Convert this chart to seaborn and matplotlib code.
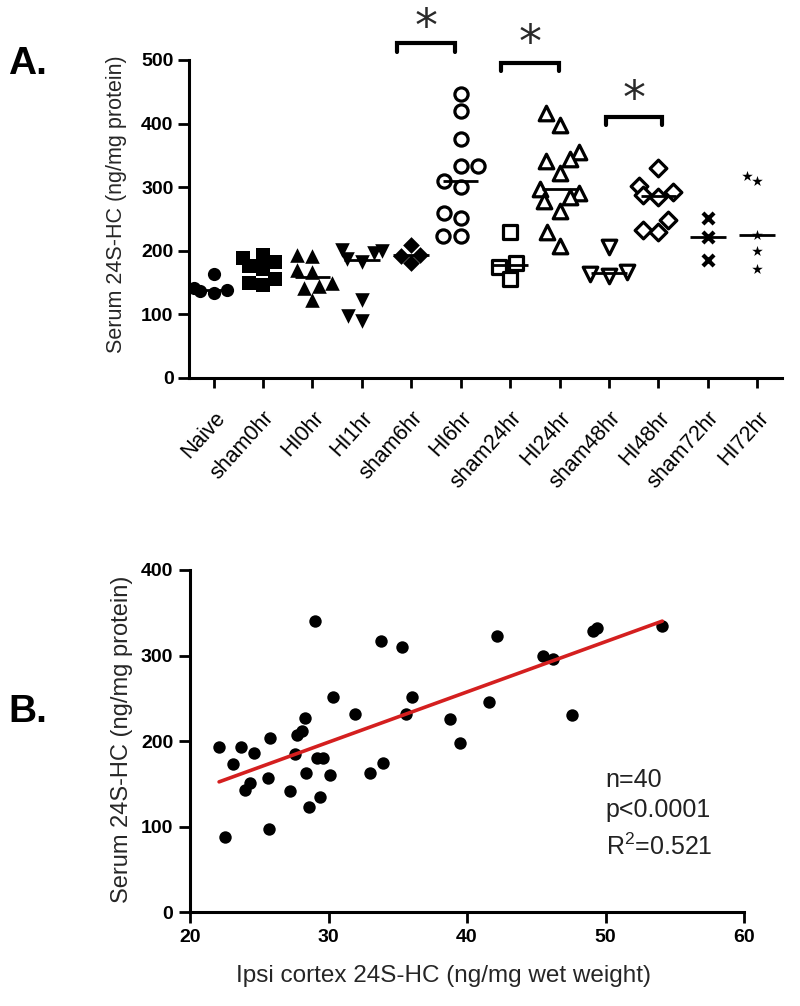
import warnings
warnings.filterwarnings("ignore")
import numpy as np
import matplotlib
matplotlib.use("Agg")
import matplotlib.pyplot as plt
import matplotlib.transforms as mtransforms
import seaborn as sns

sns.set_theme(style="ticks")
plt.rcParams["font.family"] = ["Liberation Sans", "DejaVu Sans"]
plt.rcParams["mathtext.default"] = "regular"

# ---------------- Panel A data ----------------
categories = ["Naive", "sham0hr", "HI0hr", "HI1hr", "sham6hr", "HI6hr",
              "sham24hr", "HI24hr", "sham48hr", "HI48hr", "sham72hr", "HI72hr"]
naive = [164, 142, 134, 138, 136]
sham0hr = [193, 188, 183, 176, 172, 155, 150, 146]
hi0hr = [193, 192, 170, 167, 150, 144, 141, 122]
hi1hr = [201, 199, 196, 187, 183, 123, 98, 89]
sham6hr = [209, 194, 192, 181]
hi6hr = [446, 419, 375, 333, 333, 309, 301, 259, 252, 223, 223]
sham24hr = [229, 181, 175, 155]
hi24hr = [417, 398, 356, 345, 341, 322, 297, 291, 285, 278, 262, 229, 208]
sham48hr = [206, 167, 163, 161]
hi48hr = [330, 302, 293, 288, 285, 249, 233, 230]
sham72hr = [252, 222, 185]
hi72hr = [318, 310, 225, 199, 172]
groups = [naive, sham0hr, hi0hr, hi1hr, sham6hr, hi6hr,
          sham24hr, hi24hr, sham48hr, hi48hr, sham72hr, hi72hr]
yticks_a = [0, 100, 200, 300, 400, 500]

# ---------------- Panel B data ----------------
cortex = [22.1, 23.1, 23.7, 24.6, 24.3, 24.0, 22.5, 25.8, 25.6, 25.7,
          27.2, 27.6, 27.7, 28.1, 28.3, 28.4, 28.6, 29.0, 29.2, 29.6,
          29.4, 30.1, 30.3, 31.9, 33.0, 33.9, 33.8, 35.3, 35.6, 36.0,
          38.8, 39.5, 41.6, 42.2, 45.5, 46.2, 47.6, 49.1, 49.4, 54.1]
serum = [193, 173, 193, 186, 151, 143, 88, 204, 157, 97,
         142, 185, 207, 212, 227, 163, 123, 340, 180, 180,
         134, 160, 251, 232, 163, 174, 317, 310, 232, 252,
         226, 198, 246, 323, 300, 296, 230, 329, 332, 334]
xticks_b = [20, 30, 40, 50, 60]
yticks_b = [0, 100, 200, 300, 400]

fig = plt.figure(figsize=(8, 10.06), dpi=100)
axA = fig.add_axes([0.236, 0.6243, 0.9775 - 0.236, 0.9404 - 0.6243])
axB = fig.add_axes([0.2375, 0.0934, 0.93 - 0.2375, 0.4334 - 0.0934])

styles = [
    dict(marker="o", color="black", linewidth=0, size=9.5),
    dict(marker="s", color="black", linewidth=0, size=9.5),
    dict(marker="^", color="black", linewidth=0, size=10.5),
    dict(marker="v", color="black", linewidth=0, size=10.5),
    dict(marker="D", color="black", linewidth=0, size=8.5),
    dict(marker="o", color="white", edgecolor="black", linewidth=2.3, size=9.5),
    dict(marker="s", color="white", edgecolor="black", linewidth=2.3, size=9.5),
    dict(marker="^", color="white", edgecolor="black", linewidth=2.3, size=10.5),
    dict(marker="v", color="white", edgecolor="black", linewidth=2.3, size=10.5),
    dict(marker="D", color="white", edgecolor="black", linewidth=2.3, size=8.5),
    dict(marker="x", color="black", linewidth=3, size=8),
    dict(marker="*", color="black", linewidth=0, size=8),
]

for cat, vals, st in zip(categories, groups, styles):
    sns.swarmplot(x=[cat] * len(vals), y=vals, order=categories, ax=axA, **st)

for i, vals in enumerate(groups):
    axA.hlines(np.median(vals), i - 0.36, i + 0.36, color="black", lw=2, zorder=5)

axA.set_xlim(-0.5, len(categories) - 0.5)
axA.set_ylim(0, 500)
axA.set_yticks(yticks_a)
axA.set_yticklabels([str(v) for v in yticks_a], fontsize=14, fontweight="bold", color="black")
axA.set_xticks(range(len(categories)))
axA.set_xticklabels(categories, fontsize=15.5, rotation=48, ha="right", va="top",
                    rotation_mode="anchor", color="#1a1a1a")
off = mtransforms.ScaledTranslation(6 / 100, 0, fig.dpi_scale_trans)
for lab in axA.get_xticklabels():
    lab.set_transform(lab.get_transform() + off)
axA.tick_params(axis="x", length=7, width=2, pad=14, colors="black")
axA.tick_params(axis="y", length=8, width=2, pad=3, colors="black")
axA.set_xlabel("")
axA.set_ylabel("Serum 24S-HC (ng/mg protein)", fontsize=15.5)
axA.yaxis.set_label_coords(-0.105, 0.547)
for s in ["top", "right"]:
    axA.spines[s].set_visible(False)
for s in ["left", "bottom"]:
    axA.spines[s].set_linewidth(2.2)
    axA.spines[s].set_color("black")

# significance brackets
brackets = [(3.72, 4.88, 512, 526, 549), (5.82, 6.98, 482, 496, 525), (7.93, 9.07, 397, 411, 436)]
for x0, x1, ylo, yhi, ystar in brackets:
    axA.plot([x0, x0, x1, x1], [ylo, yhi, yhi, ylo], color="black", lw=3,
             clip_on=False, solid_joinstyle="miter")
    axA.text((x0 + x1) / 2, ystar, "*", ha="center", va="center", fontsize=33,
             family="DejaVu Sans", color="#2a2a2a", clip_on=False)

# ---------------- Panel B ----------------
sns.regplot(x=cortex, y=serum, ax=axB, ci=None, truncate=True,
            scatter_kws=dict(s=80, color="black", linewidths=0, alpha=1),
            line_kws=dict(color="#d41f1f", lw=2.6))
axB.set_xlim(20, 60)
axB.set_ylim(0, 400)
axB.set_xticks(xticks_b)
axB.set_xticklabels([str(v) for v in xticks_b], fontsize=14, fontweight="bold", color="black")
axB.set_yticks(yticks_b)
axB.set_yticklabels([str(v) for v in yticks_b], fontsize=14, fontweight="bold", color="black")
axB.tick_params(axis="both", length=8, width=2, pad=4, colors="black")
axB.set_xlabel("Ipsi cortex 24S-HC (ng/mg wet weight)", fontsize=17.5)
axB.set_ylabel("Serum 24S-HC (ng/mg protein)", fontsize=17)
axB.xaxis.set_label_coords(0.458, -0.155)
axB.yaxis.set_label_coords(-0.103, 0.506)
for s in ["top", "right"]:
    axB.spines[s].set_visible(False)
for s in ["left", "bottom"]:
    axB.spines[s].set_linewidth(2.2)
    axB.spines[s].set_color("black")

axB.text(50.0, 154, "n=40", fontsize=18, va="center", ha="left", color="#222222")
axB.text(50.0, 119, "p<0.0001", fontsize=18, va="center", ha="left", color="#222222")
axB.text(50.0, 76, "R$^2$=0.521", fontsize=18, va="center", ha="left", color="#222222")

fig.text(0.01, 1 - 74 / 1006, "A.", fontsize=28, fontweight="bold", ha="left",
         va="baseline", color="black")
fig.text(0.01, 1 - 722 / 1006, "B.", fontsize=28, fontweight="bold", ha="left",
         va="baseline", color="black")

fig.savefig("out.png", dpi=100, facecolor="white")
